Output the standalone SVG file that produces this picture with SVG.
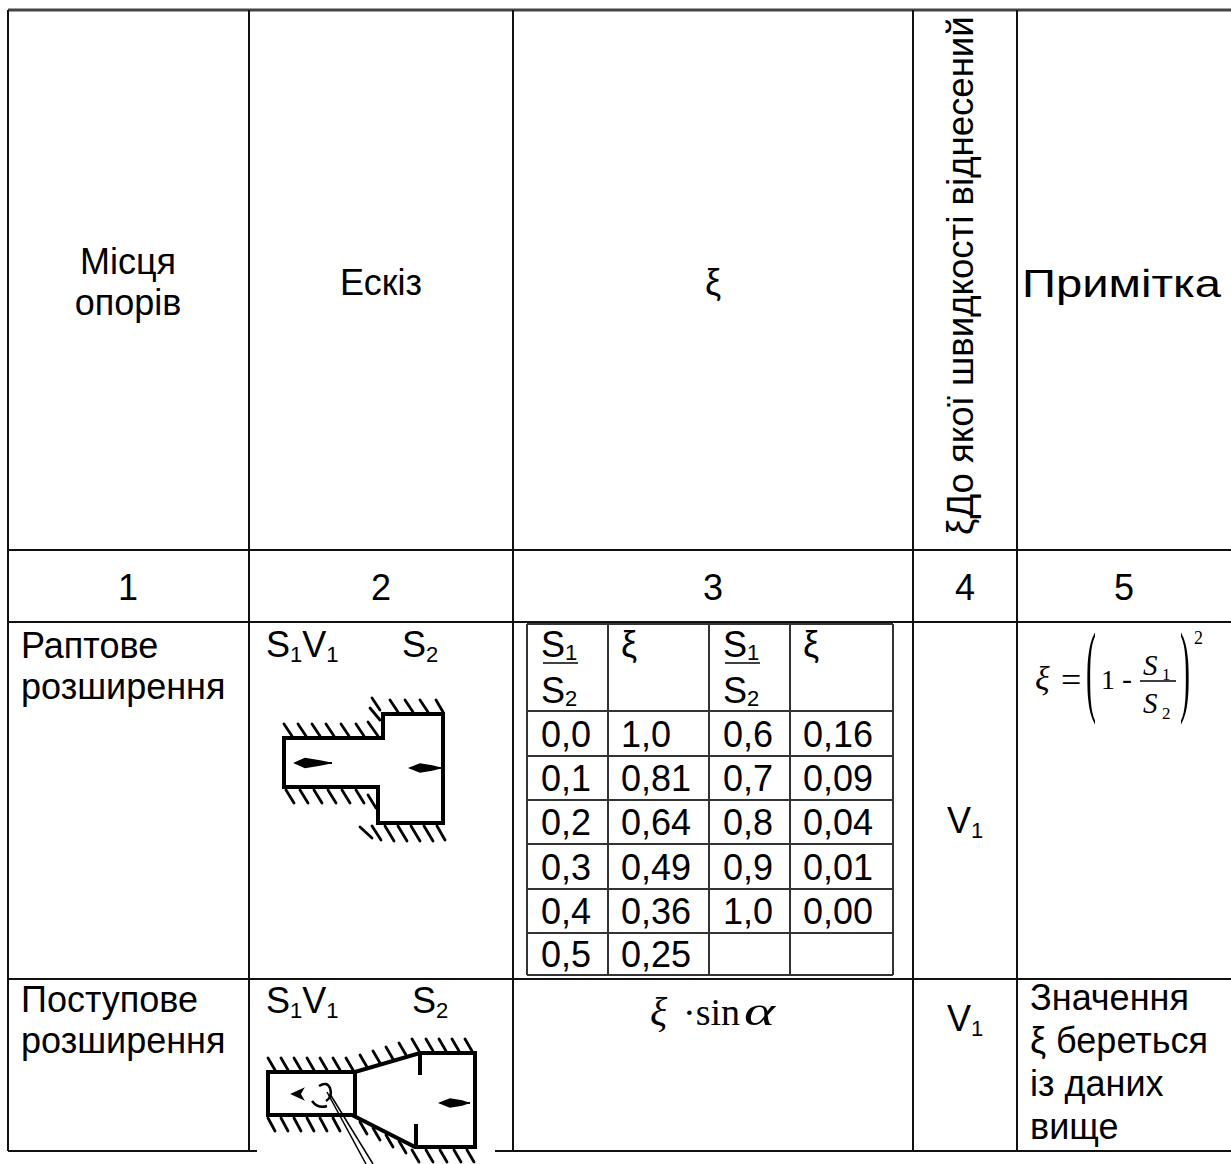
<svg xmlns="http://www.w3.org/2000/svg" width="1231" height="1164" viewBox="0 0 1231 1164">
<style>
.t{font-family:"Liberation Sans",Arial,"DejaVu Sans",sans-serif;font-size:36px;fill:#000}
.sub{font-size:22px}
.m{font-family:"Liberation Serif","Times New Roman",serif;fill:#000}
.i{font-style:italic}
.grid line{stroke:#111;stroke-width:2}
.inner line{stroke:#333;stroke-width:2}
.wall{stroke:#000;stroke-width:4;fill:none;stroke-linejoin:miter;stroke-linecap:square}
.thin{stroke:#000;stroke-width:3;fill:none}
.hatch line{stroke:#000;stroke-width:2.8;stroke-linecap:round}
.arr{fill:#000;stroke:#000;stroke-width:1.5}
</style>
<rect width="1231" height="1164" fill="#fff"/>

<g id="grid" class="grid">
<line x1="8" y1="10" x2="1231" y2="10" style="stroke:#444;stroke-width:3"/>
<line x1="8" y1="550" x2="1231" y2="550"/>
<line x1="8" y1="622" x2="1231" y2="622"/>
<line x1="8" y1="979" x2="1231" y2="979"/>
<line x1="8" y1="1151" x2="257" y2="1151"/>
<line x1="495" y1="1151" x2="1231" y2="1151"/>
<line x1="8" y1="10" x2="8" y2="1151"/>
<line x1="249" y1="10" x2="249" y2="1151"/>
<line x1="513" y1="10" x2="513" y2="1151"/>
<line x1="913" y1="10" x2="913" y2="1151"/>
<line x1="1017" y1="10" x2="1017" y2="1151"/>
</g>

<g id="header">
<text class="t" x="128" y="274" text-anchor="middle">Місця</text>
<text class="t" x="128" y="315" text-anchor="middle">опорів</text>
<text class="t" x="381" y="295" text-anchor="middle">Ескіз</text>
<text class="t" x="713" y="295" text-anchor="middle">ξ</text>
<text class="t" transform="translate(973,535) rotate(-90)" x="0" y="0" style="font-size:36.6px">ξДо якої швидкості віднесений</text>
<text class="t" x="1022" y="297" style="font-size:39px" textLength="199" lengthAdjust="spacingAndGlyphs">Примітка</text>
</g>

<g id="numbers">
<text class="t" x="128" y="600" text-anchor="middle">1</text>
<text class="t" x="381" y="600" text-anchor="middle">2</text>
<text class="t" x="713" y="600" text-anchor="middle">3</text>
<text class="t" x="965" y="600" text-anchor="middle">4</text>
<text class="t" x="1124" y="600" text-anchor="middle">5</text>
</g>

<g id="row-sudden">
<text class="t" x="21" y="658">Раптове</text>
<text class="t" x="21" y="699">розширення</text>
<text class="t" x="266" y="657">S<tspan class="sub" dy="5">1</tspan><tspan dy="-5">V</tspan><tspan class="sub" dy="5">1</tspan></text>
<text class="t" x="402" y="657">S<tspan class="sub" dy="5">2</tspan></text>
<g id="sketch-sudden">
<path class="wall" d="M284,738 H383 V714 H443 V823 H378 V787 H284 Z"/>
<g class="hatch">
<line x1="284" y1="724" x2="292" y2="736"/>
<line x1="298" y1="724" x2="306" y2="736"/>
<line x1="312" y1="724" x2="320" y2="736"/>
<line x1="326" y1="724" x2="334" y2="736"/>
<line x1="341" y1="724" x2="349" y2="736"/>
<line x1="356" y1="724" x2="364" y2="736"/>
<line x1="368" y1="722" x2="378" y2="736"/>
<line x1="370" y1="708" x2="380" y2="720"/>
<line x1="372" y1="698" x2="380" y2="710"/>
<line x1="390" y1="700" x2="398" y2="712"/>
<line x1="405" y1="700" x2="413" y2="712"/>
<line x1="420" y1="700" x2="428" y2="712"/>
<line x1="436" y1="700" x2="443" y2="712"/>
<line x1="286" y1="790" x2="294" y2="803"/>
<line x1="300" y1="790" x2="308" y2="803"/>
<line x1="314" y1="790" x2="322" y2="803"/>
<line x1="328" y1="790" x2="336" y2="803"/>
<line x1="342" y1="790" x2="350" y2="803"/>
<line x1="356" y1="790" x2="364" y2="803"/>
<line x1="368" y1="795" x2="376" y2="808"/>
<line x1="360" y1="827" x2="372" y2="838"/>
<line x1="372" y1="826" x2="381" y2="840"/>
<line x1="385" y1="826" x2="394" y2="841"/>
<line x1="398" y1="826" x2="407" y2="841"/>
<line x1="411" y1="826" x2="420" y2="841"/>
<line x1="424" y1="826" x2="433" y2="841"/>
<line x1="437" y1="826" x2="445" y2="840"/>
</g>
<line class="thin" x1="295" y1="763" x2="332" y2="763" style="stroke-width:2"/>
<polygon class="arr" points="295,763 305,758.5 320,761 330,763 320,765 305,767.5"/>
<line class="thin" x1="410" y1="768" x2="442" y2="768" style="stroke-width:2"/>
<polygon class="arr" points="410,768 420,764 432,766 440,768 432,770 420,772"/>
</g>
<g id="xi-table" class="inner">
<line x1="527" y1="624" x2="893" y2="624"/>
<line x1="527" y1="711" x2="893" y2="711"/>
<line x1="527" y1="756" x2="893" y2="756"/>
<line x1="527" y1="800" x2="893" y2="800"/>
<line x1="527" y1="844" x2="893" y2="844"/>
<line x1="527" y1="889" x2="893" y2="889"/>
<line x1="527" y1="933" x2="893" y2="933"/>
<line x1="527" y1="975" x2="893" y2="975"/>
<line x1="527" y1="624" x2="527" y2="975"/>
<line x1="608" y1="624" x2="608" y2="975"/>
<line x1="709" y1="624" x2="709" y2="975"/>
<line x1="790" y1="624" x2="790" y2="975"/>
<line x1="893" y1="624" x2="893" y2="975"/>
<line x1="543" y1="663" x2="578" y2="663" style="stroke:#000;stroke-width:1.5"/>
<line x1="725" y1="663" x2="760" y2="663" style="stroke:#000;stroke-width:1.5"/>
</g>
<g id="xi-values">
<text class="t" x="541" y="657">S<tspan class="sub" dy="3">1</tspan></text>
<text class="t" x="541" y="703">S<tspan class="sub" dy="3">2</tspan></text>
<text class="t" x="621" y="657">ξ</text>
<text class="t" x="723" y="657">S<tspan class="sub" dy="3">1</tspan></text>
<text class="t" x="723" y="703">S<tspan class="sub" dy="3">2</tspan></text>
<text class="t" x="803" y="657">ξ</text>
<text class="t" x="541" y="747">0,0</text><text class="t" x="621" y="747">1,0</text><text class="t" x="723" y="747">0,6</text><text class="t" x="803" y="747">0,16</text>
<text class="t" x="541" y="791">0,1</text><text class="t" x="621" y="791">0,81</text><text class="t" x="723" y="791">0,7</text><text class="t" x="803" y="791">0,09</text>
<text class="t" x="541" y="835">0,2</text><text class="t" x="621" y="835">0,64</text><text class="t" x="723" y="835">0,8</text><text class="t" x="803" y="835">0,04</text>
<text class="t" x="541" y="880">0,3</text><text class="t" x="621" y="880">0,49</text><text class="t" x="723" y="880">0,9</text><text class="t" x="803" y="880">0,01</text>
<text class="t" x="541" y="924">0,4</text><text class="t" x="621" y="924">0,36</text><text class="t" x="723" y="924">1,0</text><text class="t" x="803" y="924">0,00</text>
<text class="t" x="541" y="967">0,5</text><text class="t" x="621" y="967">0,25</text>
</g>
<text class="t" x="947" y="833">V<tspan class="sub" dy="5">1</tspan></text>
<g id="formula-sudden">
<text class="m i" x="1035" y="690" font-size="34">ξ</text>
<text class="m" x="1061" y="692" font-size="36">=</text>
<text class="m" transform="translate(1086,703) scale(1,3.4)" font-size="30">(</text>
<text class="m" x="1101" y="689" font-size="28">1</text>
<text class="m" x="1122" y="689" font-size="30">-</text>
<text class="m i" x="1143" y="675" font-size="29">S</text>
<text class="m" x="1162" y="680" font-size="17">1</text>
<line x1="1140" y1="681" x2="1176" y2="681" stroke="#000" stroke-width="1.5"/>
<text class="m i" x="1143" y="713" font-size="29">S</text>
<text class="m" x="1162" y="719" font-size="17">2</text>
<text class="m" transform="translate(1180,703) scale(1,3.4)" font-size="30">)</text>
<text class="m" x="1194" y="644" font-size="18">2</text>
</g>
</g>

<g id="row-gradual">
<text class="t" x="21" y="1012">Поступове</text>
<text class="t" x="21" y="1053">розширення</text>
<text class="t" x="266" y="1013">S<tspan class="sub" dy="5">1</tspan><tspan dy="-5">V</tspan><tspan class="sub" dy="5">1</tspan></text>
<text class="t" x="412" y="1013">S<tspan class="sub" dy="5">2</tspan></text>
<g id="sketch-gradual">
<path class="wall" d="M268,1072 H355 L420,1053 H475 V1147 H415 L352,1115 H268 Z"/>
<line class="wall" x1="355" y1="1072" x2="355" y2="1115"/>
<line class="wall" x1="420" y1="1053" x2="420" y2="1073"/>
<line class="wall" x1="416" y1="1126" x2="416" y2="1147"/>
<g class="hatch">
<line x1="268" y1="1058" x2="275" y2="1070"/>
<line x1="281" y1="1058" x2="288" y2="1070"/>
<line x1="294" y1="1058" x2="301" y2="1070"/>
<line x1="307" y1="1058" x2="314" y2="1070"/>
<line x1="320" y1="1058" x2="327" y2="1070"/>
<line x1="333" y1="1058" x2="340" y2="1070"/>
<line x1="346" y1="1058" x2="353" y2="1070"/>
<line x1="360" y1="1055" x2="367" y2="1067"/>
<line x1="373" y1="1051" x2="380" y2="1063"/>
<line x1="386" y1="1047" x2="393" y2="1059"/>
<line x1="399" y1="1043" x2="406" y2="1055"/>
<line x1="412" y1="1039" x2="419" y2="1051"/>
<line x1="426" y1="1039" x2="433" y2="1051"/>
<line x1="439" y1="1039" x2="446" y2="1051"/>
<line x1="452" y1="1039" x2="459" y2="1051"/>
<line x1="465" y1="1039" x2="472" y2="1051"/>
<line x1="268" y1="1118" x2="275" y2="1131"/>
<line x1="281" y1="1118" x2="288" y2="1131"/>
<line x1="294" y1="1118" x2="301" y2="1131"/>
<line x1="307" y1="1118" x2="314" y2="1131"/>
<line x1="320" y1="1118" x2="327" y2="1131"/>
<line x1="333" y1="1118" x2="340" y2="1131"/>
<line x1="360" y1="1122" x2="367" y2="1134"/>
<line x1="373" y1="1128" x2="380" y2="1140"/>
<line x1="386" y1="1135" x2="393" y2="1147"/>
<line x1="399" y1="1141" x2="406" y2="1153"/>
<line x1="412" y1="1150" x2="419" y2="1162"/>
<line x1="426" y1="1150" x2="433" y2="1162"/>
<line x1="440" y1="1150" x2="447" y2="1162"/>
<line x1="454" y1="1150" x2="461" y2="1162"/>
<line x1="467" y1="1150" x2="474" y2="1162"/>
</g>
<polygon class="arr" points="292,1094 303,1089 300,1094 303,1099"/>
<path d="M319,1086 Q327,1081 330,1088 Q333,1097 326,1101 M312,1101 Q318,1109 327,1106" fill="none" stroke="#000" stroke-width="2.5"/>
<line x1="327" y1="1092" x2="366" y2="1164" stroke="#000" stroke-width="1.5"/>
<line x1="330" y1="1094" x2="373" y2="1164" stroke="#000" stroke-width="1.5"/>
<line class="thin" x1="440" y1="1103" x2="470" y2="1103" style="stroke-width:2"/>
<polygon class="arr" points="440,1103 450,1099 462,1101 468,1103 462,1105 450,1107"/>
</g>
<g id="formula-gradual">
<text class="m i" x="650" y="1025" font-size="40">ξ</text>
<text class="m" x="683" y="1025" font-size="38">·sin</text>
<text class="m i" x="744" y="1025" font-size="40" textLength="31" lengthAdjust="spacingAndGlyphs">α</text>
</g>
<text class="t" x="947" y="1031">V<tspan class="sub" dy="5">1</tspan></text>
<g id="note">
<text class="t" x="1030" y="1010">Значення</text>
<text class="t" x="1030" y="1053">ξ береться</text>
<text class="t" x="1030" y="1096">із даних</text>
<text class="t" x="1030" y="1139">вище</text>
</g>
</g>
</svg>
